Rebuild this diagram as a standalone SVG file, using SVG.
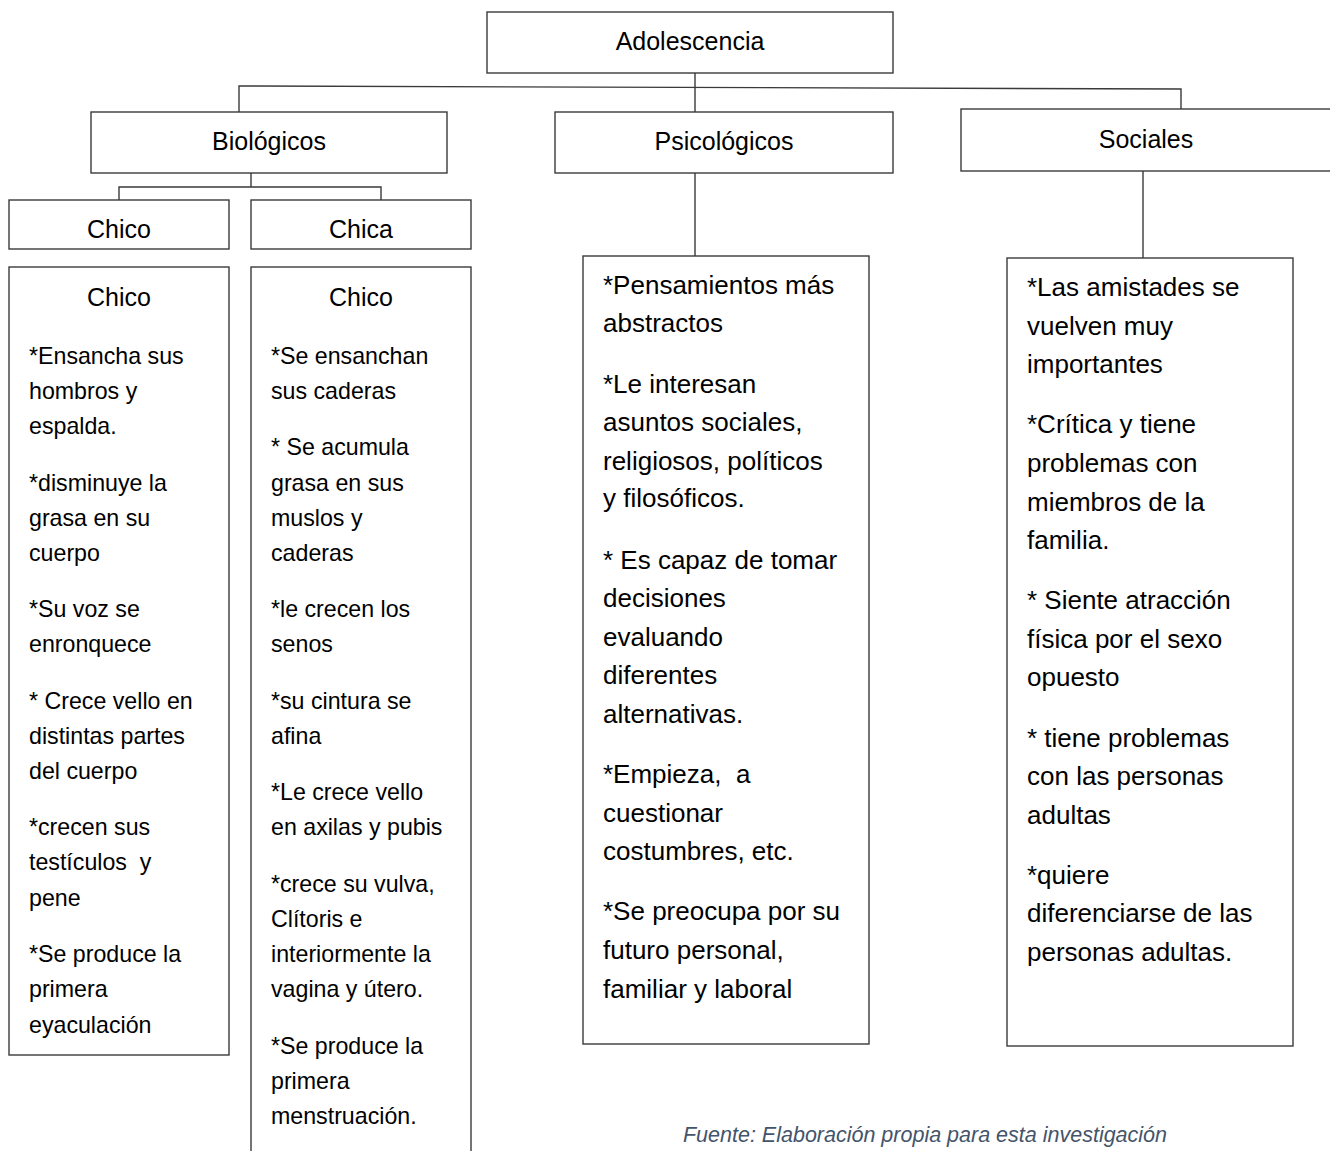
<svg xmlns="http://www.w3.org/2000/svg" width="1330" height="1151" viewBox="0 0 1330 1151">
<style>
.box{fill:#fff;stroke:#3a3a3a;stroke-width:1.4}
.ln{fill:none;stroke:#3a3a3a;stroke-width:1.4}
text{font-family:"Liberation Sans",Arial,sans-serif;fill:#000}
.h{font-size:25px;text-anchor:middle}
.s{font-size:23.2px}
.m{font-size:26px}
.cap{font-size:21.5px;font-style:italic;fill:#44546A;text-anchor:middle}
</style>
<rect width="1330" height="1151" fill="#fff"/>
<g id="connectors">
<path class="ln" d="M239,112 V86 L1181,89 V109"/>
<path class="ln" d="M695,73 V112"/>
<path class="ln" d="M251,173 V187 M119,200 V187 H381 V200"/>
<path class="ln" d="M695,173 V256"/>
<path class="ln" d="M1143,171 V258"/>
</g>
<g id="adolescencia"><rect class="box" x="487" y="12" width="406" height="61"/><text class="h" x="690" y="50">Adolescencia</text></g>
<g id="biologicos"><rect class="box" x="91" y="112" width="356" height="61"/><text class="h" x="269" y="150">Biológicos</text></g>
<g id="psicologicos"><rect class="box" x="555" y="112" width="338" height="61"/><text class="h" x="724" y="150">Psicológicos</text></g>
<g id="sociales"><rect class="box" x="961" y="109" width="380" height="62"/><text class="h" x="1146" y="148">Sociales</text></g>
<g id="chico"><rect class="box" x="9" y="200" width="220" height="49"/><text class="h" x="119" y="238">Chico</text></g>
<g id="chica"><rect class="box" x="251" y="200" width="220" height="49"/><text class="h" x="361" y="238">Chica</text></g>
<g id="chico-detalle">
<rect class="box" x="9" y="267" width="220" height="788"/>
<text class="h" x="119" y="306">Chico</text>
<text class="s" x="29">
<tspan x="29" y="364">*Ensancha sus</tspan>
<tspan x="29" y="399">hombros y</tspan>
<tspan x="29" y="434">espalda.</tspan>
<tspan x="29" y="491">*disminuye la</tspan>
<tspan x="29" y="526">grasa en su</tspan>
<tspan x="29" y="561">cuerpo</tspan>
<tspan x="29" y="617">*Su voz se</tspan>
<tspan x="29" y="652">enronquece</tspan>
<tspan x="29" y="709">* Crece vello en</tspan>
<tspan x="29" y="744">distintas partes</tspan>
<tspan x="29" y="779">del cuerpo</tspan>
<tspan x="29" y="835">*crecen sus</tspan>
<tspan x="29" y="870" xml:space="preserve">testículos  y</tspan>
<tspan x="29" y="906">pene</tspan>
<tspan x="29" y="962">*Se produce la</tspan>
<tspan x="29" y="997">primera</tspan>
<tspan x="29" y="1033">eyaculación</tspan>
</text>
</g>
<g id="chica-detalle">
<rect class="box" x="251" y="267" width="220" height="900"/>
<text class="h" x="361" y="306">Chico</text>
<text class="s" x="271">
<tspan x="271" y="364">*Se ensanchan</tspan>
<tspan x="271" y="399">sus caderas</tspan>
<tspan x="271" y="455">* Se acumula</tspan>
<tspan x="271" y="491">grasa en sus</tspan>
<tspan x="271" y="526">muslos y</tspan>
<tspan x="271" y="561">caderas</tspan>
<tspan x="271" y="617">*le crecen los</tspan>
<tspan x="271" y="652">senos</tspan>
<tspan x="271" y="709">*su cintura se</tspan>
<tspan x="271" y="744">afina</tspan>
<tspan x="271" y="800">*Le crece vello</tspan>
<tspan x="271" y="835">en axilas y pubis</tspan>
<tspan x="271" y="892">*crece su vulva,</tspan>
<tspan x="271" y="927">Clítoris e</tspan>
<tspan x="271" y="962">interiormente la</tspan>
<tspan x="271" y="997">vagina y útero.</tspan>
<tspan x="271" y="1054">*Se produce la</tspan>
<tspan x="271" y="1089">primera</tspan>
<tspan x="271" y="1124">menstruación.</tspan>
</text>
</g>
<g id="psicologicos-detalle">
<rect class="box" x="583" y="256" width="286" height="788"/>
<text class="m" x="603">
<tspan x="603" y="294">*Pensamientos más</tspan>
<tspan x="603" y="332">abstractos</tspan>
<tspan x="603" y="393">*Le interesan</tspan>
<tspan x="603" y="431">asuntos sociales,</tspan>
<tspan x="603" y="470">religiosos, políticos</tspan>
<tspan x="603" y="507">y filosóficos.</tspan>
<tspan x="603" y="569">* Es capaz de tomar</tspan>
<tspan x="603" y="607">decisiones</tspan>
<tspan x="603" y="646">evaluando</tspan>
<tspan x="603" y="684">diferentes</tspan>
<tspan x="603" y="723">alternativas.</tspan>
<tspan x="603" y="783" xml:space="preserve">*Empieza,  a</tspan>
<tspan x="603" y="822">cuestionar</tspan>
<tspan x="603" y="860">costumbres, etc.</tspan>
<tspan x="603" y="920">*Se preocupa por su</tspan>
<tspan x="603" y="959">futuro personal,</tspan>
<tspan x="603" y="998">familiar y laboral</tspan>
</text>
</g>
<g id="sociales-detalle">
<rect class="box" x="1007" y="258" width="286" height="788"/>
<text class="m" x="1027">
<tspan x="1027" y="296">*Las amistades se</tspan>
<tspan x="1027" y="335">vuelven muy</tspan>
<tspan x="1027" y="373">importantes</tspan>
<tspan x="1027" y="433">*Crítica y tiene</tspan>
<tspan x="1027" y="472">problemas con</tspan>
<tspan x="1027" y="511">miembros de la</tspan>
<tspan x="1027" y="549">familia.</tspan>
<tspan x="1027" y="609">* Siente atracción</tspan>
<tspan x="1027" y="648">física por el sexo</tspan>
<tspan x="1027" y="686">opuesto</tspan>
<tspan x="1027" y="747">* tiene problemas</tspan>
<tspan x="1027" y="785">con las personas</tspan>
<tspan x="1027" y="824">adultas</tspan>
<tspan x="1027" y="884">*quiere</tspan>
<tspan x="1027" y="922">diferenciarse de las</tspan>
<tspan x="1027" y="961">personas adultas.</tspan>
</text>
</g>
<text class="cap" x="925" y="1142">Fuente: Elaboración propia para esta investigación</text>
</svg>
